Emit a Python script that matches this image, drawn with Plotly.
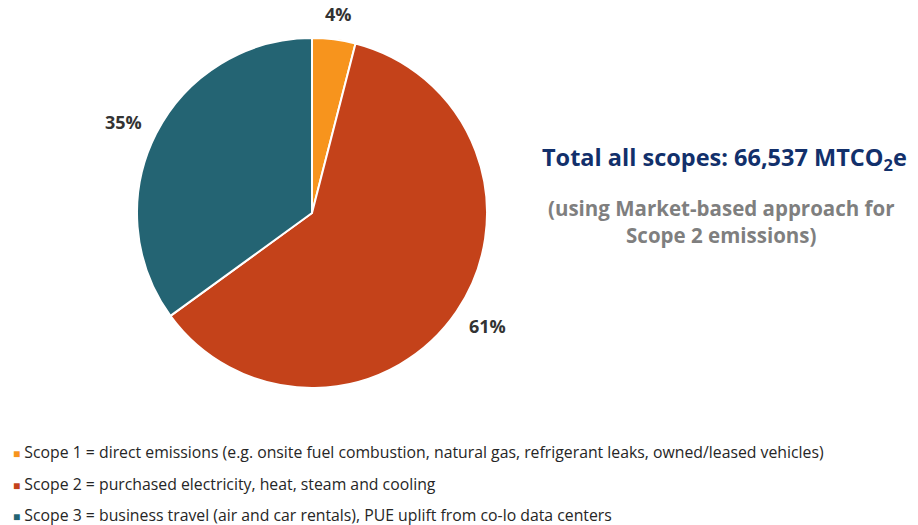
import math
import plotly.graph_objects as go

labels = [
    "Scope 1 = direct emissions (e.g. onsite fuel combustion, natural gas, refrigerant leaks, owned/leased vehicles)",
    "Scope 2 = purchased electricity, heat, steam and cooling",
    "Scope 3 = business travel (air and car rentals), PUE uplift from co-lo data centers",
]
values = [4, 61, 35]
colors = ["#F7941D", "#C4421A", "#246473"]

title_text = "Total all scopes: 66,537 MTCO<sub>2</sub>e"
subtitle_text = "(using Market-based approach for<br>Scope 2 emissions)"

W, H = 918, 525
dom_x = [137 / W, 487 / W]
dom_y = [137 / H, 487 / H]

fig = go.Figure()
fig.add_trace(go.Pie(
    labels=labels,
    values=values,
    sort=False,
    direction="clockwise",
    rotation=0,
    marker=dict(colors=colors, line=dict(color="white", width=2)),
    textinfo="none",
    domain=dict(x=dom_x, y=dom_y),
    showlegend=False,
    automargin=False,
))

anns = []
# percent labels placed just outside each slice, from the data
cx = (dom_x[0] + dom_x[1]) / 2 * W
cy = (1 - (dom_y[0] + dom_y[1]) / 2) * H
R = (dom_x[1] - dom_x[0]) * W / 2
gap, hw, hh = 17, 20, 9
total = sum(values)
cum = 0
for v in values:
    th = 2 * math.pi * (cum + v / 2) / total
    cum += v
    s, c = math.sin(th), math.cos(th)
    px = cx + (R + gap) * s + hw * s
    py = cy - (R + gap) * c - hh * c
    anns.append(dict(
        text=f"<b>{round(100 * v / total)}%</b>", x=px / W, y=1 - py / H,
        xref="paper", yref="paper", xanchor="center", yanchor="middle", showarrow=False,
        font=dict(family="Open Sans", size=18, color="#333333"),
    ))

anns += [
    dict(text=f"<b>{title_text}</b>", x=724 / W, y=1 - 158 / H, xref="paper", yref="paper",
         xanchor="center", yanchor="middle",
         showarrow=False, font=dict(family="Open Sans", size=23.5, color="#12306B")),
    dict(text=f"<b>{subtitle_text}</b>", x=721 / W, y=1 - 221 / H, xref="paper", yref="paper",
         xanchor="center", yanchor="middle",
         showarrow=False, font=dict(family="Open Sans", size=20.5, color="#7F7F7F")),
]
legend_y = [452, 484, 515]
for lab, col, yy in zip(labels, colors, legend_y):
    anns.append(dict(
        text=f"<span style='color:{col};font-size:12px'>■</span> {lab}",
        x=11 / W, y=1 - yy / H, xref="paper", yref="paper", xanchor="left", yanchor="middle",
        showarrow=False, font=dict(family="Open Sans", size=15.8, color="#262626"),
    ))

fig.update_layout(
    width=W, height=H,
    margin=dict(l=0, r=0, t=0, b=0),
    paper_bgcolor="white", plot_bgcolor="white",
    annotations=anns,
)
fig.write_html("out.html")
